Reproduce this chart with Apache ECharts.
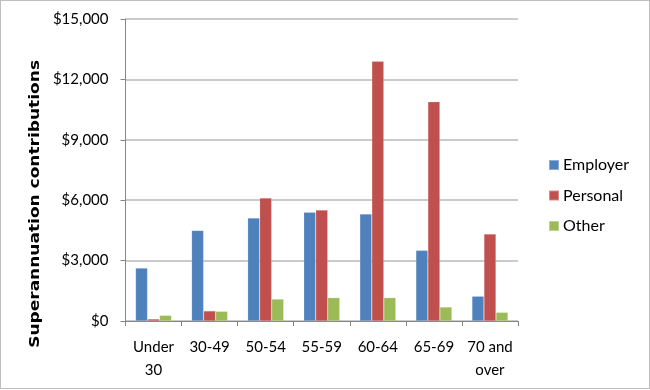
<!DOCTYPE html>
<html>
<head>
<meta charset="utf-8">
<script src="https://cdn.jsdelivr.net/npm/echarts@6/dist/echarts.min.js"></script>
<style>
html,body{margin:0;padding:0;background:#fff;}
#wrap{position:absolute;left:0;top:0;width:650px;height:389px;box-sizing:border-box;border:1px solid #bfbfbf;}
#chart{position:absolute;left:0;top:0;width:650px;height:390px;}
</style>
</head>
<body>
<div id="chart"></div>
<div id="wrap"></div>
<script>
const categories = ['Under\n30', '30-49', '50-54', '55-59', '60-64', '65-69', '70 and\nover'];
const employer = [2630, 4500, 5110, 5400, 5310, 3510, 1230];
const personal = [100, 500, 6110, 5510, 12900, 10890, 4320];
const other = [280, 480, 1090, 1160, 1160, 695, 430];
const yTicks = { min: 0, max: 15000, interval: 3000 };

const FONT = 'Lato, "Open Sans", sans-serif';
const chart = echarts.init(document.getElementById('chart'), null, { renderer: 'canvas' });

function bar(name, data, color) {
  return {
    name, type: 'bar', data, barWidth: 12, barGap: '0%',
    itemStyle: { color, borderColor: 'rgba(255,255,255,0.35)', borderWidth: 0.5 },
    emphasis: { disabled: true }
  };
}

chart.setOption({
  animation: false,
  textStyle: { fontFamily: FONT },
  grid: { left: 125.5, right: 132, top: 19, bottom: 69, containLabel: false },
  xAxis: {
    type: 'category', data: categories,
    axisLine: { lineStyle: { color: '#868686', width: 1 } },
    axisTick: { show: true, length: 5, alignWithLabel: false, lineStyle: { color: '#868686' } },
    axisLabel: { color: '#000', fontSize: 15, fontFamily: FONT, margin: 15, lineHeight: 23, interval: 0 }
  },
  yAxis: {
    type: 'value', min: yTicks.min, max: yTicks.max, interval: yTicks.interval,
    axisLine: { show: true, lineStyle: { color: '#868686', width: 1 } },
    axisTick: { show: true, length: 5, lineStyle: { color: '#868686' } },
    axisLabel: {
      color: '#000', fontSize: 15, fontFamily: FONT, margin: 17,
      formatter: v => '$' + v.toLocaleString('en-US')
    },
    splitLine: { lineStyle: { color: '#b8b8b8', width: 1.5 } }
  },
  legend: {
    orient: 'vertical', left: 543, top: 152,
    itemWidth: 10, itemHeight: 10, itemGap: 14.5,
    icon: 'rect',
    textStyle: { color: '#000', fontSize: 16, fontFamily: FONT, padding: [0, 0, 0, -1] },
    data: ['Employer', 'Personal', 'Other']
  },
  graphic: [{
    type: 'text', left: 28, top: 60,
    rotation: Math.PI / 2,
    scaleX: 1.215,
    style: { text: 'Superannuation contributions', fontSize: 14, fontWeight: 'bold', fontFamily: '"DejaVu Sans", sans-serif', fill: '#000' }
  }],
  series: [
    bar('Employer', employer, '#4F81BD'),
    bar('Personal', personal, '#C0504D'),
    bar('Other', other, '#9BBB59')
  ]
});
</script>
</body>
</html>
